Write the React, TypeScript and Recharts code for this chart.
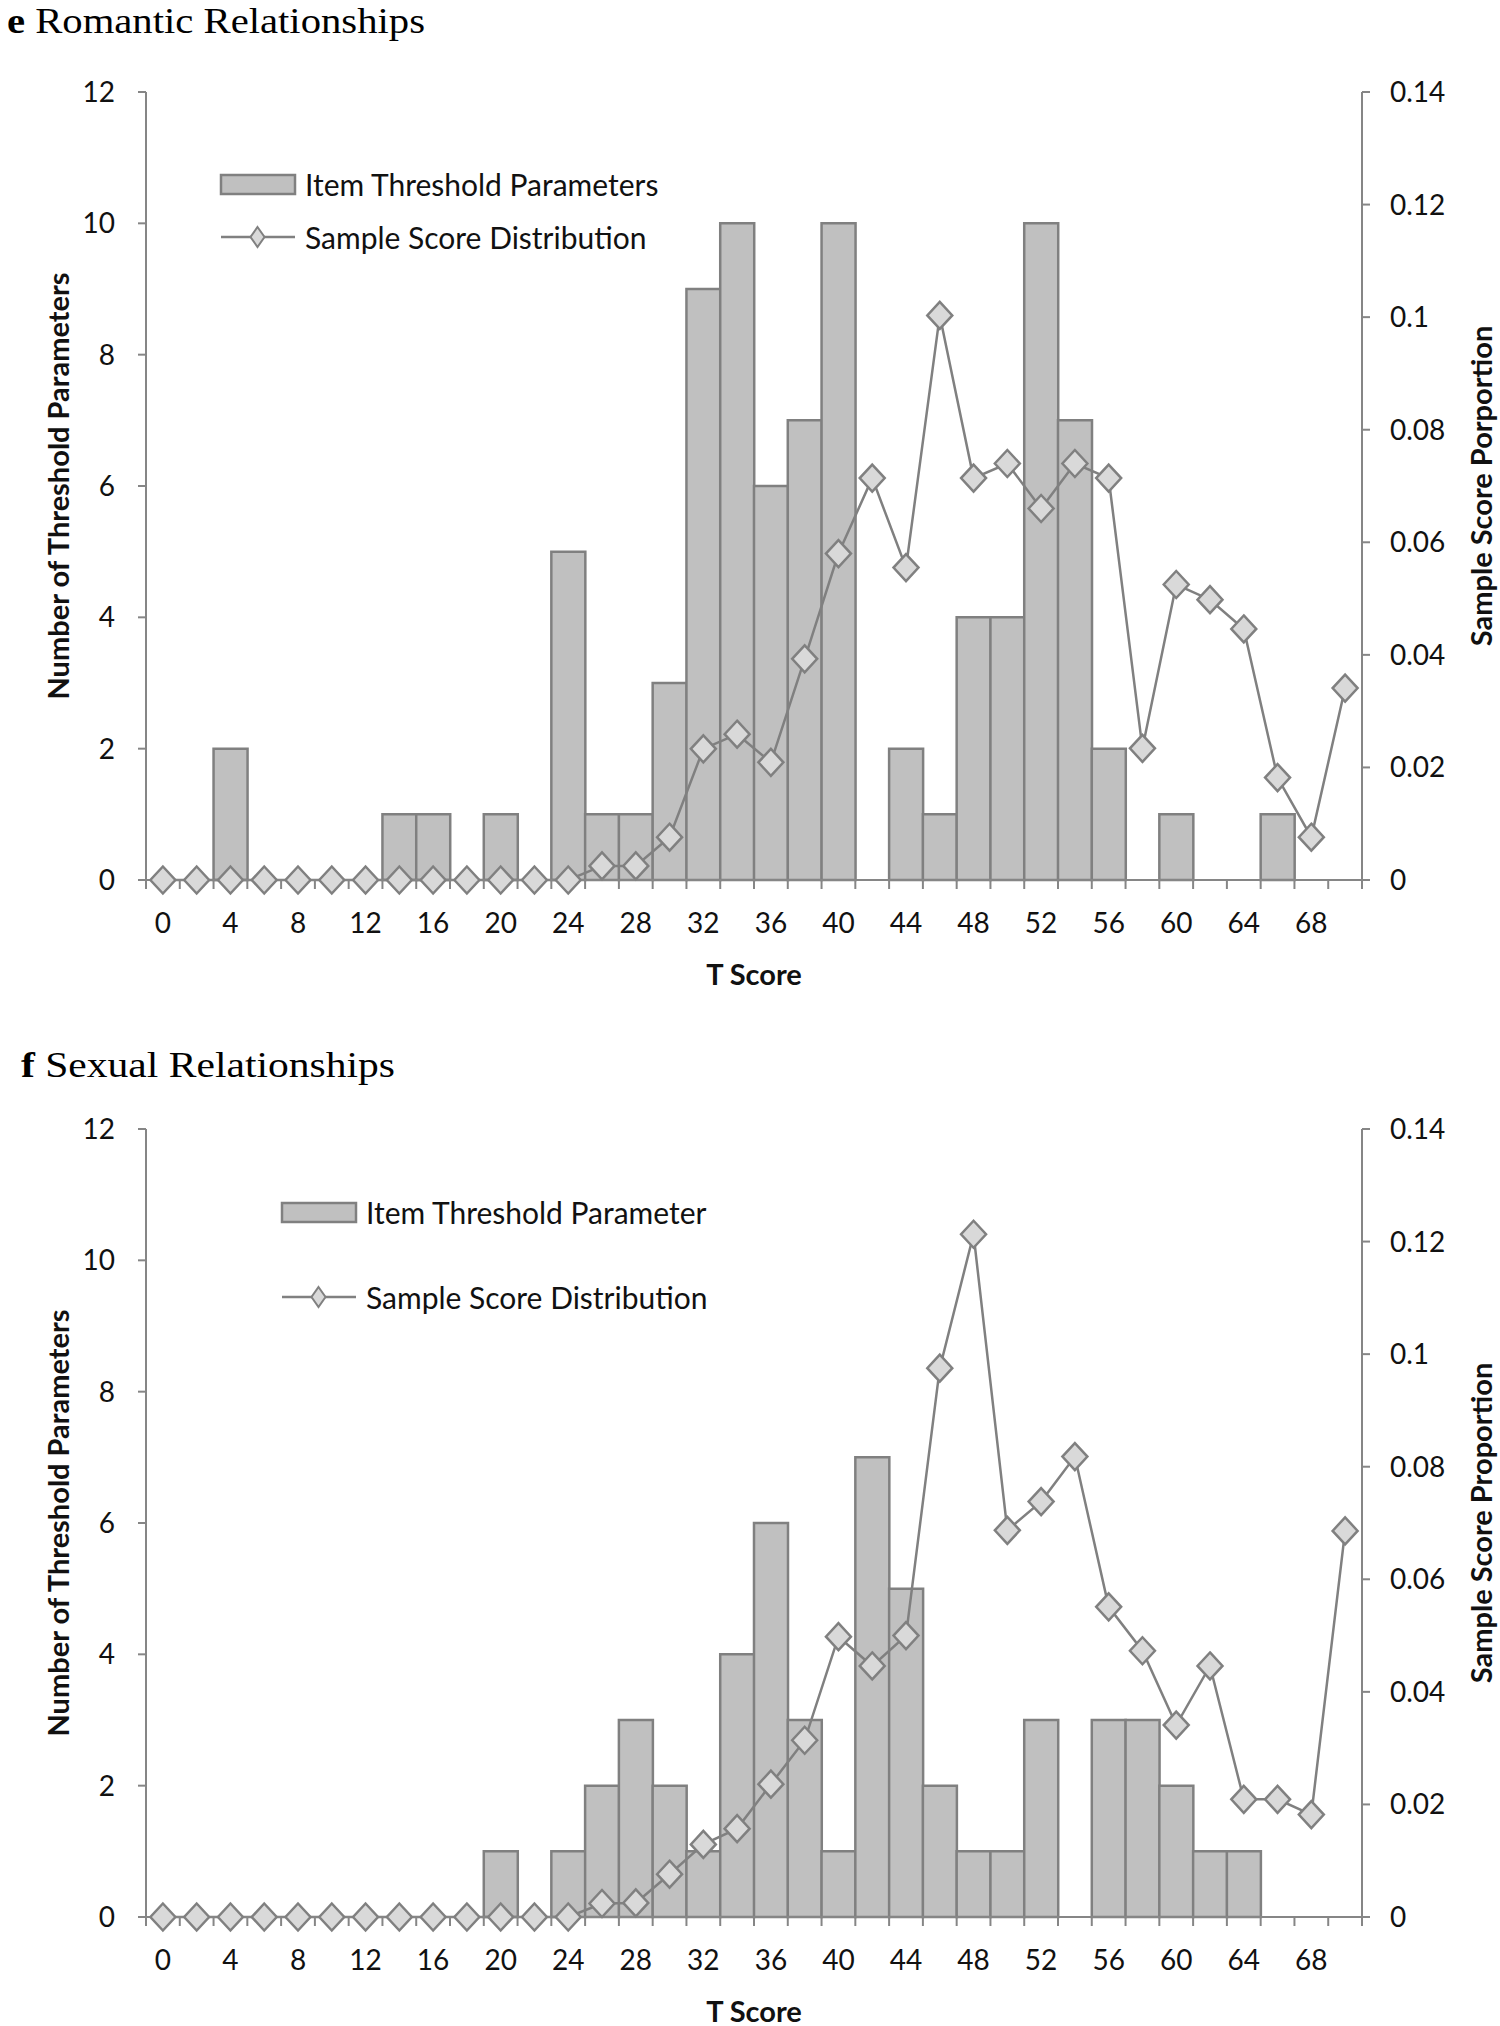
import React from 'react';
import { ComposedChart, Bar, Line, XAxis, YAxis, Legend } from 'recharts';

// ---------- data ----------
const tScores = [0, 2, 4, 6, 8, 10, 12, 14, 16, 18, 20, 22, 24, 26, 28, 30, 32, 34, 36, 38, 40, 42, 44, 46, 48, 50, 52, 54, 56, 58, 60, 62, 64, 66, 68, 70];

const romanticThresholdCounts = [0, 0, 2, 0, 0, 0, 0, 1, 1, 0, 1, 0, 5, 1, 1, 3, 9, 10, 6, 7, 10, 0, 2, 1, 4, 4, 10, 7, 2, 0, 1, 0, 0, 1, 0, 0];
const romanticSampleProportions = [0, 0, 0, 0, 0, 0, 0, 0, 0, 0, 0, 0, 0, 0.0025, 0.0025, 0.0076, 0.0233, 0.0259, 0.0209, 0.0393, 0.058, 0.0714, 0.0555, 0.1003, 0.0714, 0.074, 0.066, 0.074, 0.0714, 0.0234, 0.0525, 0.0498, 0.0446, 0.0182, 0.0076, 0.0341];

const sexualThresholdCounts = [0, 0, 0, 0, 0, 0, 0, 0, 0, 0, 1, 0, 1, 2, 3, 2, 1, 4, 6, 3, 1, 7, 5, 2, 1, 1, 3, 0, 3, 3, 2, 1, 1, 0, 0, 0];
const sexualSampleProportions = [0, 0, 0, 0, 0, 0, 0, 0, 0, 0, 0, 0, 0, 0.0024, 0.0025, 0.0076, 0.0129, 0.0157, 0.0236, 0.0314, 0.0498, 0.0446, 0.05, 0.0975, 0.1213, 0.0687, 0.0738, 0.0818, 0.0551, 0.0473, 0.0341, 0.0446, 0.0209, 0.0209, 0.0182, 0.0686];

const countTicks = [0, 2, 4, 6, 8, 10, 12];
const proportionTicks = [0, 0.02, 0.04, 0.06, 0.08, 0.1, 0.12, 0.14];

// ---------- style ----------
const SANS = 'Lato, "Open Sans", "DejaVu Sans", sans-serif';
const SERIF = '"Liberation Serif", "Times New Roman", serif';
const AXIS = '#868686';
const BAR_FILL = '#c0c0c0';
const MARK_STROKE = '#808080';
const DOT_FILL = '#d9d9d9';
const TEXT = '#111';

const W = 1500;
const H = 1010;
const PLOT_LEFT = 146;
const PLOT_RIGHT = 1362;
const PLOT_TOP = 92;
const PLOT_BOTTOM = 880;
const LEFT_AXIS_W = 70;
const RIGHT_AXIS_W = 90;
const X_AXIS_H = 100;
const BAND = (PLOT_RIGHT - PLOT_LEFT) / tScores.length;
const PLOT_MID_Y = (PLOT_TOP + PLOT_BOTTOM) / 2;
const PLOT_MID_X = (PLOT_LEFT + PLOT_RIGHT) / 2;
const TICK_FONT = 28;
const TITLE_FONT = 29;

function XTick(props: any) {
  const { x, y, payload, index } = props;
  const h = BAND / 2;
  return (
    <g>
      <line x1={x - h} x2={x - h} y1={y} y2={y + 9} stroke={AXIS} strokeWidth={2} />
      {index === tScores.length - 1 ? (
        <line x1={x + h} x2={x + h} y1={y} y2={y + 9} stroke={AXIS} strokeWidth={2} />
      ) : null}
      {index % 2 === 0 ? (
        <text x={x} y={y + 42} textAnchor="middle" dominantBaseline="central" fontSize={TICK_FONT} fontFamily={SANS} fill={TEXT}>
          {payload.value}
        </text>
      ) : null}
    </g>
  );
}

function Diamond(props: any) {
  const { cx, cy, index } = props;
  if (cx == null || cy == null) return <g key={`d-${index}`} />;
  const w = 12.5;
  const h = 13.5;
  return (
    <polygon
      key={`d-${index}`}
      points={`${cx},${cy - h} ${cx + w},${cy} ${cx},${cy + h} ${cx - w},${cy}`}
      fill={DOT_FILL}
      stroke={MARK_STROKE}
      strokeWidth={2.5}
    />
  );
}

function makeLegend(barName: string, lineName: string, rowGap: number) {
  return function LegendContent() {
    const r1 = 20;
    const r2 = 20 + rowGap;
    const dx = 38.5;
    return (
      <svg width={560} height={r2 + 25} style={{ display: 'block', overflow: 'visible' }}>
        <rect x={2} y={r1 - 9} width={74} height={19} fill={BAR_FILL} stroke={MARK_STROKE} strokeWidth={2.5} />
        <text x={86} y={r1} dominantBaseline="central" fontSize={30} fontFamily={SANS} fill={TEXT}>
          {barName}
        </text>
        <line x1={2} x2={76} y1={r2} y2={r2} stroke={MARK_STROKE} strokeWidth={2.5} />
        <polygon
          points={`${dx},${r2 - 10} ${dx + 7},${r2} ${dx},${r2 + 10} ${dx - 7},${r2}`}
          fill={DOT_FILL}
          stroke={MARK_STROKE}
          strokeWidth={2}
        />
        <text x={86} y={r2} dominantBaseline="central" fontSize={30} fontFamily={SANS} fill={TEXT}>
          {lineName}
        </text>
      </svg>
    );
  };
}

type PanelProps = {
  top: number;
  letter: string;
  title: string;
  titleX: number;
  titleWidth: number;
  titleBaseline: number;
  thresholds: number[];
  proportions: number[];
  barName: string;
  lineName: string;
  rightTitle: string;
  legendLeft: number;
  legendTop: number;
  legendRowGap: number;
};

function Panel(p: PanelProps) {
  const data = tScores.map((t, i) => ({ t, thr: p.thresholds[i], prop: p.proportions[i] }));
  const LegendContent = makeLegend(p.barName, p.lineName, p.legendRowGap);
  return (
    <div style={{ position: 'absolute', left: 0, top: p.top, width: W, height: H }}>
      <svg width={700} height={60} style={{ position: 'absolute', left: 0, top: 0 }}>
        <text
          x={p.titleX}
          y={p.titleBaseline}
          fontFamily={SERIF}
          fontSize={36}
          fill="#000"
          textLength={p.titleWidth}
          lengthAdjust="spacingAndGlyphs"
        >
          <tspan fontWeight={700}>{p.letter}</tspan> {p.title}
        </text>
      </svg>
      <div style={{ position: 'absolute', left: 0, top: 0 }}>
        <ComposedChart
          width={W}
          height={H}
          data={data}
          barCategoryGap={0}
          barGap={0}
          margin={{
            top: PLOT_TOP,
            left: PLOT_LEFT - LEFT_AXIS_W,
            right: W - PLOT_RIGHT - RIGHT_AXIS_W,
            bottom: H - PLOT_BOTTOM - X_AXIS_H,
          }}
        >
          <XAxis
            dataKey="t"
            type="category"
            interval={0}
            tickSize={0}
            tickMargin={0}
            tickLine={false}
            tick={<XTick />}
            height={X_AXIS_H}
            axisLine={{ stroke: AXIS, strokeWidth: 2 }}
            label={() => (
              <text x={PLOT_MID_X} y={PLOT_BOTTOM + 93} textAnchor="middle" dominantBaseline="central" fontSize={TITLE_FONT} fontWeight={700} fontFamily={SANS} fill={TEXT}>
                T Score
              </text>
            )}
          />
          <YAxis
            yAxisId="left"
            orientation="left"
            width={LEFT_AXIS_W}
            domain={[0, 12]}
            ticks={countTicks}
            interval={0}
            tickSize={8}
            tickMargin={23}
            tick={{ fontSize: TICK_FONT, fontFamily: SANS, fill: TEXT }}
            tickLine={{ stroke: AXIS, strokeWidth: 2 }}
            axisLine={{ stroke: AXIS, strokeWidth: 2 }}
            label={() => (
              <text transform={`translate(57, ${PLOT_MID_Y}) rotate(-90)`} textAnchor="middle" dominantBaseline="central" fontSize={TITLE_FONT} fontWeight={700} fontFamily={SANS} fill={TEXT}>
                Number of Threshold Parameters
              </text>
            )}
          />
          <YAxis
            yAxisId="right"
            orientation="right"
            width={RIGHT_AXIS_W}
            domain={[0, 0.14]}
            ticks={proportionTicks}
            interval={0}
            tickSize={8}
            tickMargin={20}
            tick={{ fontSize: TICK_FONT, fontFamily: SANS, fill: TEXT }}
            tickLine={{ stroke: AXIS, strokeWidth: 2 }}
            axisLine={{ stroke: AXIS, strokeWidth: 2 }}
            label={() => (
              <text transform={`translate(1480, ${PLOT_MID_Y}) rotate(-90)`} textAnchor="middle" dominantBaseline="central" fontSize={TITLE_FONT} fontWeight={700} fontFamily={SANS} fill={TEXT}>
                {p.rightTitle}
              </text>
            )}
          />
          <Legend
            layout="vertical"
            align="center"
            verticalAlign="middle"
            content={<LegendContent />}
            wrapperStyle={{ left: p.legendLeft - 2, top: p.legendTop - 20, width: 560, height: p.legendRowGap + 45 }}
          />
          <Bar
            yAxisId="left"
            dataKey="thr"
            name={p.barName}
            fill={BAR_FILL}
            stroke={MARK_STROKE}
            strokeWidth={2.5}
            isAnimationActive={false}
          />
          <Line
            yAxisId="right"
            dataKey="prop"
            name={p.lineName}
            type="linear"
            stroke={MARK_STROKE}
            strokeWidth={2.5}
            dot={(props: any) => <Diamond {...props} key={`dot-${props.index}`} />}
            activeDot={false}
            isAnimationActive={false}
          />
        </ComposedChart>
      </div>
    </div>
  );
}

export default function App() {
  return (
    <div style={{ position: 'absolute', left: 0, top: 0, width: 1500, height: 2026, background: '#fff', overflow: 'hidden' }}>
      <Panel
        top={0}
        letter="e"
        title="Romantic Relationships"
        titleX={7}
        titleWidth={418}
        titleBaseline={33}
        thresholds={romanticThresholdCounts}
        proportions={romanticSampleProportions}
        barName="Item Threshold Parameters"
        lineName="Sample Score Distribution"
        rightTitle="Sample Score Porportion"
        legendLeft={221}
        legendTop={184}
        legendRowGap={53}
      />
      <Panel
        top={1037}
        letter="f"
        title="Sexual Relationships"
        titleX={21}
        titleWidth={374}
        titleBaseline={40}
        thresholds={sexualThresholdCounts}
        proportions={sexualSampleProportions}
        barName="Item Threshold Parameter"
        lineName="Sample Score Distribution"
        rightTitle="Sample Score Proportion"
        legendLeft={282}
        legendTop={175}
        legendRowGap={85}
      />
    </div>
  );
}
